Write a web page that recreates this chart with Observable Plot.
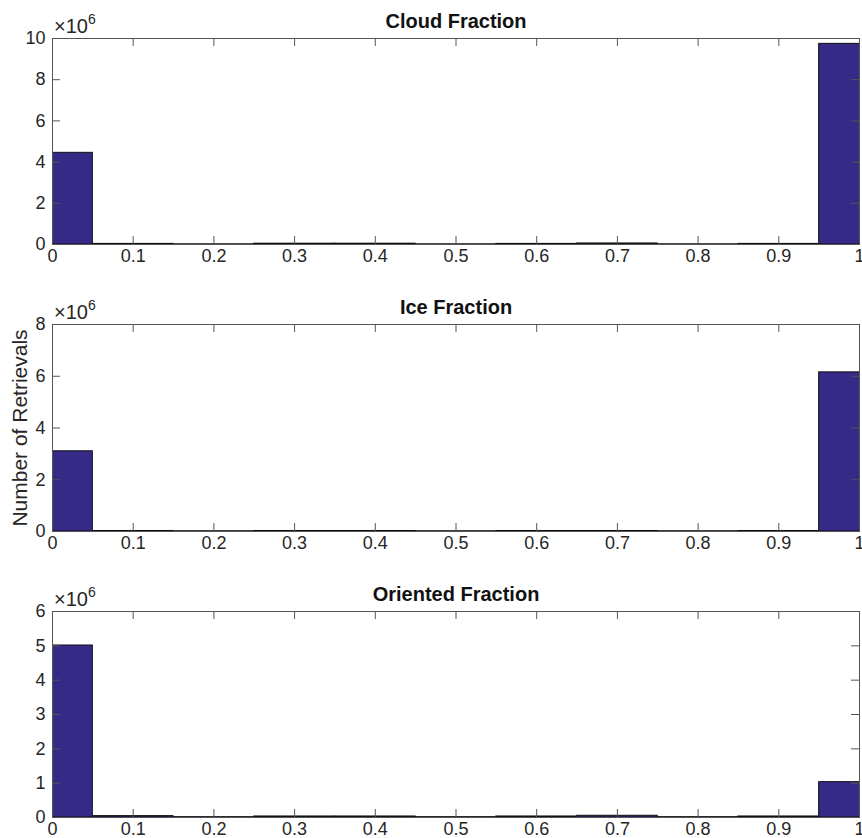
<!DOCTYPE html>
<html>
<head>
<meta charset="utf-8">
<script src="https://cdn.jsdelivr.net/npm/d3@7"></script>
<script src="https://cdn.jsdelivr.net/npm/@observablehq/plot@0.6"></script>
<style>
  body { margin: 0; background: #fff; }
  #chart { position: relative; width: 862px; height: 838px; font-family: "Liberation Sans", Arial, Helvetica, sans-serif; }
  #chart svg { position: absolute; left: 0; overflow: visible; }
</style>
</head>
<body>
<div id="chart"></div>
<script>
// Histogram bins: centred on 0, 0.1, ..., 1 (width 0.1), clipped to [0, 1]
const binEdges = [-0.05, 0.05, 0.15, 0.25, 0.35, 0.45, 0.55, 0.65, 0.75, 0.85, 0.95, 1.05];

// Counts per bin (number of retrievals)
const cloudCounts    = [4450000, 30000, 10000, 40000, 40000, 10000, 30000, 50000, 10000, 30000, 9740000];
const iceCounts      = [3100000, 20000, 10000, 20000, 20000, 10000, 20000, 20000, 10000, 20000, 6150000];
const orientedCounts = [5010000, 40000, 10000, 30000, 30000, 10000, 30000, 50000, 10000, 30000, 1030000];

// Panel titles and axis ticks
const titles = ["Cloud Fraction", "Ice Fraction", "Oriented Fraction"];
const xTicks = [0, 0.1, 0.2, 0.3, 0.4, 0.5, 0.6, 0.7, 0.8, 0.9, 1];
const xTickLabels = ["0", "0.1", "0.2", "0.3", "0.4", "0.5", "0.6", "0.7", "0.8", "0.9", "1"];
const cloudYTicks    = [0, 2e6, 4e6, 6e6, 8e6, 10e6];
const iceYTicks      = [0, 2e6, 4e6, 6e6, 8e6];
const orientedYTicks = [0, 1e6, 2e6, 3e6, 4e6, 5e6, 6e6];
const yLabel = "Number of Retrievals";

const W = 862, ML = 52, MR = 3, MT = 38, TICK = 8;
const FONT = '"Liberation Sans", Arial, Helvetica, sans-serif';
const BAR = "#352a87", AXIS = "#555", INK = "#262626";

function panel({title, counts, yTicks, top, height, marginBottom, withYLabel}) {
  const rows = counts.map((c, i) => ({x1: binEdges[i], x2: binEdges[i + 1], count: c}));
  const plotW = W - ML - MR;
  const plotH = height - MT - marginBottom;
  const yMax = yTicks[yTicks.length - 1];
  const marks = [
    Plot.rectY(rows, {x1: "x1", x2: "x2", y: "count", fill: BAR, stroke: "#111", strokeWidth: 1, clip: true}),
    Plot.frame({stroke: AXIS}),
    Plot.ruleX(xTicks, {x: d => d, insetTop: plotH - TICK, stroke: AXIS}),
    Plot.ruleX(xTicks, {x: d => d, insetBottom: plotH - TICK, stroke: AXIS}),
    Plot.ruleY(yTicks, {y: d => d, insetRight: plotW - TICK, stroke: AXIS}),
    Plot.ruleY(yTicks, {y: d => d, insetLeft: plotW - TICK, stroke: AXIS}),
    Plot.axisX({ticks: xTicks, tickSize: 0, tickPadding: 5, tickFormat: d => xTickLabels[xTicks.indexOf(d)], label: null, fontSize: 18, fill: INK}),
    Plot.axisY({ticks: yTicks, tickSize: 0, tickPadding: 7, tickFormat: d => String(d / 1e6), label: null, fontSize: 18, fill: INK}),
    Plot.text([title], {frameAnchor: "top", lineAnchor: "bottom", dy: -11, fontWeight: "bold", fontSize: 20, fill: "#111"})
  ];
  if (withYLabel) {
    marks.push(Plot.text([yLabel], {frameAnchor: "left", dx: -32, rotate: -90, textAnchor: "middle", lineAnchor: "middle", fontSize: 21, fill: INK}));
  }
  const svg = Plot.plot({
    width: W, height, marginLeft: ML, marginRight: MR, marginTop: MT, marginBottom,
    style: {fontFamily: FONT, background: "transparent", overflow: "visible", color: INK},
    x: {domain: [0, 1]},
    y: {domain: [0, yMax]},
    marks
  });
  svg.style.top = top + "px";
  // exponent label above the y axis
  const exp = d3.select(svg).append("text")
    .attr("x", ML + 2).attr("y", MT - 5)
    .style("font-family", FONT).style("font-size", "20px").style("text-anchor", "start").style("fill", INK);
  exp.append("tspan").text("×10");
  exp.append("tspan").style("font-size", "14px").attr("dy", -9).text("6");
  document.getElementById("chart").appendChild(svg);
}

panel({title: titles[0], counts: cloudCounts, yTicks: cloudYTicks, top: 0, height: 268, marginBottom: 24});
panel({title: titles[1], counts: iceCounts, yTicks: iceYTicks, top: 286, height: 268, marginBottom: 23, withYLabel: true});
panel({title: titles[2], counts: orientedCounts, yTicks: orientedYTicks, top: 573, height: 265, marginBottom: 21});
</script>
</body>
</html>
